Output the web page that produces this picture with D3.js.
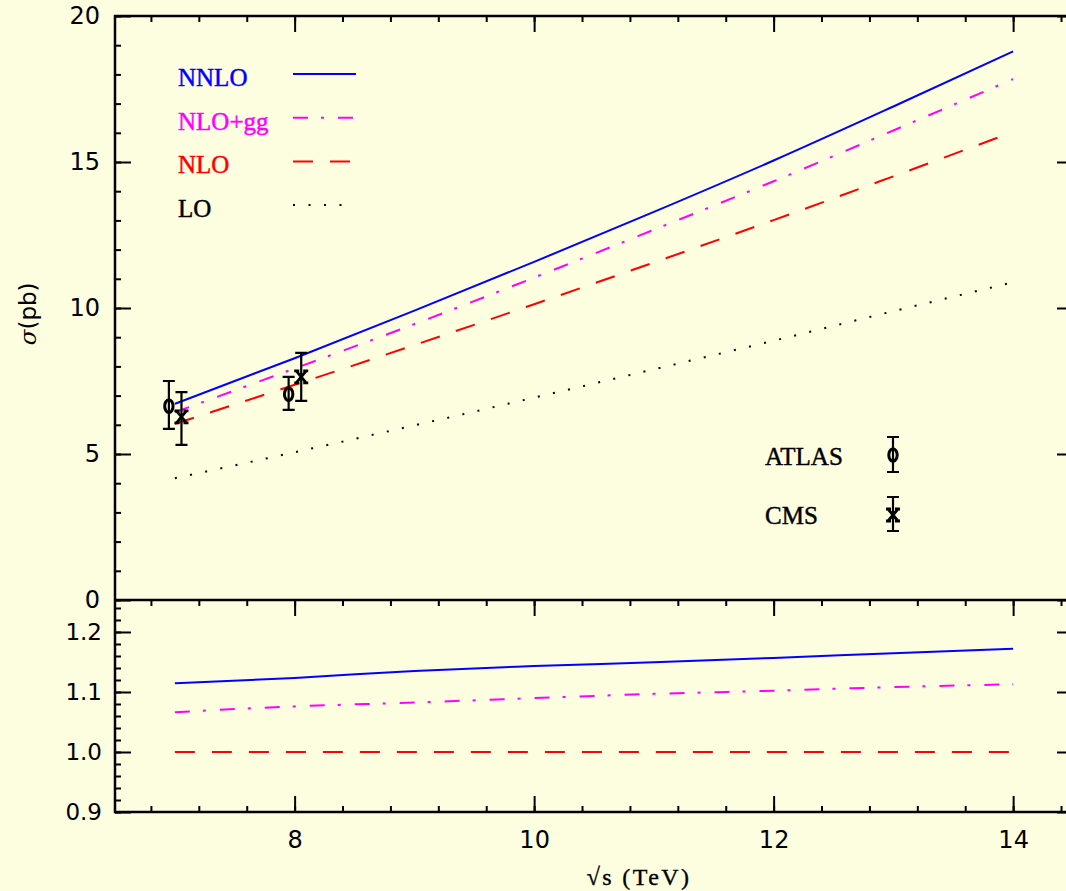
<!DOCTYPE html>
<html>
<head>
<meta charset="utf-8">
<script src="https://cdn.jsdelivr.net/npm/d3@7"></script>
<style>
  html, body { margin: 0; padding: 0; background: #fdfde0; }
  svg { display: block; }
</style>
</head>
<body>
<svg id="chart" width="1066" height="891"></svg>
<script>
// ZZ production cross section vs collider energy
const sqrtS   = [7, 8, 9, 10, 11, 12, 13, 14];
const sigLO   = [4.17, 5.06, 5.98, 6.93, 7.90, 8.88, 9.89, 10.88];
const sigNLO  = [6.03, 7.37, 8.73, 10.13, 11.56, 13.01, 14.51, 16.03];
const sigNLOgg = [6.43, 7.93, 9.45, 11.04, 12.68, 14.34, 16.08, 17.84];
const sigNNLO = [6.72, 8.28, 9.91, 11.58, 13.29, 15.05, 16.90, 18.79];

// measurements (central value, lower and upper edge of error bar)
const atlasS   = [7, 8];
const atlasVal = [6.64, 7.05];
const atlasLo  = [5.86, 6.51];
const atlasHi  = [7.50, 7.64];
const cmsS     = [7, 8];
const cmsVal   = [6.27, 7.64];
const cmsLo    = [5.31, 6.82];
const cmsHi    = [7.12, 8.46];

const mainTicks  = [0, 5, 10, 15, 20];
const ratioTicks = [0.9, 1.0, 1.1, 1.2];
const xTicks     = [8, 10, 12, 14];

const svg = d3.select("#chart");
const X0 = 115, X1 = 1073;
const MT = 16, MB = 600, RB = 812;

const x = d3.scaleLinear().domain([6.5, 14.5]).range([X0, X1]);
const yMain = d3.scaleLinear().domain([0, 20]).range([MB, MT]);
const yRat = d3.scaleLinear().domain([0.9, 1.2533]).range([RB, MB]);

const numFont = "DejaVu Sans, sans-serif";
const serifFont = "Liberation Serif, serif";

// ---- axes helpers ----
function minorRange(a, b, step) {
  const out = [];
  const n = Math.round((b - a) / step);
  for (let i = 0; i <= n; i++) out.push(+(a + i * step).toFixed(6));
  return out;
}

function styleAxis(g) {
  g.select(".domain").remove();
  g.selectAll(".tick line").attr("stroke", "#000").attr("stroke-width", 2);
  g.selectAll(".tick text").attr("fill", "#000").attr("font-family", numFont);
}

const xMinor = minorRange(6.8, 14.4, 0.4);

// top edge of main panel
svg.append("g").attr("transform", `translate(0,${MT})`)
  .call(d3.axisTop(x).tickValues(xMinor).tickSize(-6).tickFormat(""))
  .call(styleAxis);
svg.append("g").attr("transform", `translate(0,${MT})`)
  .call(d3.axisTop(x).tickValues(xTicks).tickSize(-16).tickFormat(""))
  .call(styleAxis);

// top edge of ratio panel
svg.append("g").attr("transform", `translate(0,${MB})`)
  .call(d3.axisTop(x).tickValues(xMinor).tickSize(-6).tickFormat(""))
  .call(styleAxis);
svg.append("g").attr("transform", `translate(0,${MB})`)
  .call(d3.axisTop(x).tickValues(xTicks).tickSize(-16).tickFormat(""))
  .call(styleAxis);

// bottom axis
svg.append("g").attr("transform", `translate(0,${RB})`)
  .call(d3.axisBottom(x).tickValues(xMinor).tickSize(-6).tickFormat(""))
  .call(styleAxis);
svg.append("g").attr("transform", `translate(0,${RB})`)
  .call(d3.axisBottom(x).tickValues(xTicks).tickSize(-16).tickPadding(19).tickFormat(d3.format("d")))
  .call(styleAxis)
  .call(g => g.selectAll(".tick text").attr("font-size", 24));

// left/right axes, main panel
const yMinor = minorRange(0, 20, 1);
[[X0, d3.axisLeft, -1], [X1, d3.axisRight, 1]].forEach(([px, ax, side]) => {
  svg.append("g").attr("transform", `translate(${px},0)`)
    .call(ax(yMain).tickValues(yMinor).tickSize(-6).tickFormat(""))
    .call(styleAxis);
  const g = svg.append("g").attr("transform", `translate(${px},0)`)
    .call(ax(yMain).tickValues(mainTicks).tickSize(-16).tickPadding(15)
      .tickFormat(side < 0 ? d3.format("d") : ""))
    .call(styleAxis);
  g.selectAll(".tick text").attr("font-size", 24);
});

// left/right axes, ratio panel
const rMinor = minorRange(0.9, 1.24, 0.02);
[[X0, d3.axisLeft, -1], [X1, d3.axisRight, 1]].forEach(([px, ax, side]) => {
  svg.append("g").attr("transform", `translate(${px},0)`)
    .call(ax(yRat).tickValues(rMinor).tickSize(-6).tickFormat(""))
    .call(styleAxis);
  const g = svg.append("g").attr("transform", `translate(${px},0)`)
    .call(ax(yRat).tickValues(ratioTicks).tickSize(-16).tickPadding(13)
      .tickFormat(side < 0 ? d3.format(".1f") : ""))
    .call(styleAxis);
  g.selectAll(".tick text").attr("font-size", 23);
});

// frame
const frame = svg.append("g").attr("stroke", "#000").attr("stroke-width", 2.5).attr("fill", "none");
frame.append("rect").attr("x", X0).attr("y", MT).attr("width", X1 - X0).attr("height", RB - MT);
frame.append("line").attr("x1", X0).attr("x2", X1).attr("y1", MB).attr("y2", MB);

// axis titles
svg.append("text")
  .attr("transform", `translate(36,${(yMain(9.8))}) rotate(-90)`)
  .attr("text-anchor", "middle")
  .attr("font-family", numFont).attr("font-size", 23).attr("fill", "#000")
  .call(t => {
    t.append("tspan").attr("font-style", "italic").attr("font-family", "DejaVu Serif, serif").text("σ");
    t.append("tspan").text("(pb)");
  });

svg.append("text")
  .attr("x", 639).attr("y", 885)
  .attr("text-anchor", "middle")
  .attr("font-family", serifFont).attr("font-size", 24).attr("fill", "#000")
  .attr("letter-spacing", 2.4)
  .attr("stroke", "#000").attr("stroke-width", 0.35)
  .text("√s (TeV)");

// ---- curves ----
const curves = [
  { name: "NNLO",   vals: sigNNLO,  color: "#0000ff", dash: null,         keyLen: 63 },
  { name: "NLO+gg", vals: sigNLOgg, color: "#ff00ff", dash: "15,13,3,14", keyLen: 63 },
  { name: "NLO",    vals: sigNLO,   color: "#ff0000", dash: "20,17",      keyLen: 57 },
  { name: "LO",     vals: sigLO,    color: "#000000", dash: "2,13.5",     keyLen: 52 }
];

const lineMain = d3.line().x(d => x(d[0])).y(d => yMain(d[1])).curve(d3.curveMonotoneX);
const lineRat  = d3.line().x(d => x(d[0])).y(d => yRat(d[1])).curve(d3.curveMonotoneX);

curves.forEach(c => {
  const pts = sqrtS.map((s, i) => [s, c.vals[i]]);
  svg.append("path").attr("d", lineMain(pts))
    .attr("fill", "none").attr("stroke", c.color).attr("stroke-width", 2)
    .attr("stroke-dasharray", c.dash);
  if (c.name !== "LO") {
    const rpts = sqrtS.map((s, i) => [s, c.vals[i] / sigNLO[i]]);
    svg.append("path").attr("d", lineRat(rpts))
      .attr("fill", "none").attr("stroke", c.color).attr("stroke-width", 2)
      .attr("stroke-dasharray", c.dash);
  }
});

// ---- legend for curves ----
const leg = svg.append("g");
curves.forEach((c, i) => {
  const base = 86 + i * 43.7;
  leg.append("text").attr("x", 178).attr("y", base)
    .attr("font-family", serifFont).attr("font-size", 25).attr("fill", c.color)
    .attr("stroke", c.color).attr("stroke-width", 0.45)
    .text(c.name);
  leg.append("line").attr("x1", 293).attr("x2", 293 + c.keyLen)
    .attr("y1", base - 12).attr("y2", base - 12)
    .attr("stroke", c.color).attr("stroke-width", 2)
    .attr("stroke-dasharray", c.dash);
});

// ---- measurements ----
function circleMark(g, cx, cy) {
  g.append("ellipse").attr("cx", cx).attr("cy", cy).attr("rx", 4.2).attr("ry", 6.3)
    .attr("fill", "none").attr("stroke", "#000").attr("stroke-width", 3);
}
function crossMark(g, cx, cy) {
  g.append("path")
    .attr("d", `M${cx - 5},${cy - 6}L${cx + 5},${cy + 6}M${cx + 5},${cy - 6}L${cx - 5},${cy + 6}` +
               `M${cx - 7},${cy - 6}H${cx - 2}M${cx + 2},${cy - 6}H${cx + 7}` +
               `M${cx - 7},${cy + 6}H${cx - 2}M${cx + 2},${cy + 6}H${cx + 7}`)
    .attr("fill", "none").attr("stroke", "#000").attr("stroke-width", 2.8);
}
function errBar(g, cx, y1, y2) {
  g.append("path")
    .attr("d", `M${cx},${y1}V${y2}M${cx - 6},${y1}H${cx + 6}M${cx - 6},${y2}H${cx + 6}`)
    .attr("fill", "none").attr("stroke", "#000").attr("stroke-width", 2.2);
}

const dataG = svg.append("g");
const atlasShift = -0.05, cmsShift = 0.055;
atlasS.forEach((s, i) => {
  const cx = x(s + atlasShift);
  errBar(dataG, cx, yMain(atlasHi[i]), yMain(atlasLo[i]));
  circleMark(dataG, cx, yMain(atlasVal[i]));
});
cmsS.forEach((s, i) => {
  const cx = x(s + cmsShift);
  errBar(dataG, cx, yMain(cmsHi[i]), yMain(cmsLo[i]));
  crossMark(dataG, cx, yMain(cmsVal[i]));
});

// legend for measurements
const mleg = svg.append("g");
mleg.append("text").attr("x", 765).attr("y", 465)
  .attr("font-family", serifFont).attr("font-size", 25).attr("fill", "#000")
  .attr("stroke", "#000").attr("stroke-width", 0.45).text("ATLAS");
errBar(mleg, 893, 437, 472);
circleMark(mleg, 893, 455);
mleg.append("text").attr("x", 765).attr("y", 524)
  .attr("font-family", serifFont).attr("font-size", 25).attr("fill", "#000")
  .attr("stroke", "#000").attr("stroke-width", 0.45).text("CMS");
errBar(mleg, 893, 497, 531);
crossMark(mleg, 893, 515);
</script>
</body>
</html>
